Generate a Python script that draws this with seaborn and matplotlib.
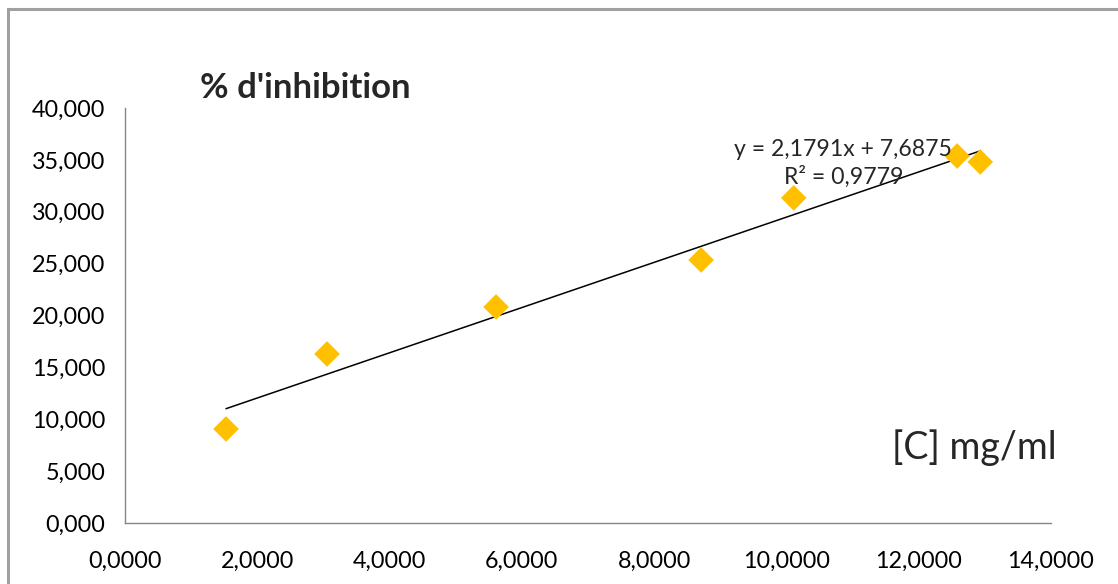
import numpy as np
import pandas as pd
import matplotlib.pyplot as plt
import seaborn as sns
from matplotlib.patches import Rectangle

# data
conc = [1.527, 3.054, 5.61, 8.71, 10.11, 12.58, 12.93]
inhib = [9.06, 16.29, 20.82, 25.35, 31.33, 35.37, 34.80]
slope, intercept = 2.1791, 7.6875
x_ticks = [0, 2, 4, 6, 8, 10, 12, 14]
y_ticks = [0, 5, 10, 15, 20, 25, 30, 35, 40]

df = pd.DataFrame({"conc": conc, "inhib": inhib})
xs = np.array([min(conc), max(conc)])
trend = pd.DataFrame({"conc": xs, "inhib": slope * xs + intercept})

sns.set_style("white")
plt.rcParams['font.family'] = ['Lato', 'DejaVu Sans']

fig = plt.figure(figsize=(11.18, 5.84), dpi=100)
ax = fig.add_axes([0.1118, 0.1045, 0.8283, 0.7106])

# outer chart frame
fig.patches.append(Rectangle((8 / 1118, -0.1), 1.2, 1 - 9 / 584 + 0.1,
                             transform=fig.transFigure, fill=False,
                             edgecolor='#a0a0a0', linewidth=2.2))

sns.lineplot(data=trend, x="conc", y="inhib", color='black', linewidth=1.1, ax=ax)
sns.scatterplot(data=df, x="conc", y="inhib", marker='D', s=170,
                color='#FFC000', edgecolor='none', ax=ax, zorder=3)

ax.set_xlim(0, 14)
ax.set_ylim(0, 40)
ax.set_xticks(x_ticks)
ax.set_yticks(y_ticks)
ax.set_xticklabels([f"{v:.4f}".replace('.', ',') for v in x_ticks])
ax.set_yticklabels([f"{v:.3f}".replace('.', ',') for v in y_ticks])
ax.tick_params(axis='both', direction='out', length=8, width=1, color='#868686',
               labelsize=16.8, labelcolor='black', pad=6)
ax.tick_params(axis='x', pad=12)
for s in ['top', 'right']:
    ax.spines[s].set_visible(False)
for s in ['left', 'bottom']:
    ax.spines[s].set_color('#868686')
    ax.spines[s].set_linewidth(1)
ax.set_xlabel('')
ax.set_ylabel('')

fig.text(200 / 1118, 1 - 88 / 584, "% d'inhibition", fontsize=25, fontweight='bold',
         ha='left', va='center')
ax.text(14.09, 7.3, "[C] mg/ml", fontsize=27, ha='right', va='center')
ax.text(10.86, 35.95, "y = 2,1791x + 7,6875", fontsize=16.6, ha='center', va='center')
ax.text(10.86, 33.35, "R² = 0,9779", fontsize=16.6, ha='center', va='center')

fig.savefig("out.png", dpi=100)
